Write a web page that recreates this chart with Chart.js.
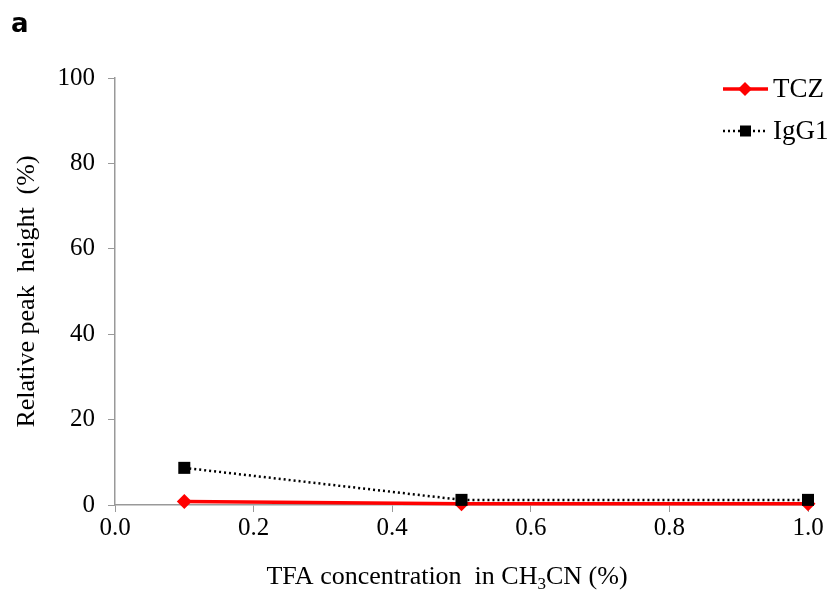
<!DOCTYPE html>
<html>
<head>
<meta charset="utf-8">
<script src="https://cdn.jsdelivr.net/npm/chart.js@4/dist/chart.umd.min.js"></script>
<style>
  html, body { margin: 0; padding: 0; background: #fff; }
  #wrap { position: relative; width: 831px; height: 596px; }
</style>
</head>
<body>
<div id="wrap"><canvas id="peakChart" width="831" height="596"></canvas></div>
<script>
var tfaConc = [0.1, 0.5, 1.0];
var tczHeight = [0.8, 0.3, 0.3];
var igg1Height = [8.7, 1.2, 1.2];
var xTicks = [0, 0.2, 0.4, 0.6, 0.8, 1.0];
var yTicks = [0, 20, 40, 60, 80, 100];

var serif = '"Liberation Serif", "Times New Roman", serif';

function toPoints(xs, ys) {
    return xs.map(function(x, i) { return { x: x, y: ys[i] }; });
}

// legend with line + marker, x title with subscript, and the panel letter
var extras = {
    id: 'extras',
    afterDraw: function(chart) {
        var ctx = chart.ctx;
        ctx.save();
        ctx.fillStyle = '#000';
        ctx.font = 'bold 26px "DejaVu Sans", sans-serif';
        ctx.textBaseline = 'alphabetic';
        ctx.fillText('a', 11, 32);

        // x axis title: TFA concentration in CH3CN (%)
        var parts = [
            { t: 'TFA concentration  in CH', size: 26, dy: 0 },
            { t: '3', size: 17, dy: 5 },
            { t: 'CN (%)', size: 26, dy: 0 }
        ];
        var total = 0;
        parts.forEach(function(p) {
            ctx.font = p.size + 'px ' + serif;
            p.w = ctx.measureText(p.t).width;
            total += p.w;
        });
        var tx = 447 - total / 2;
        parts.forEach(function(p) {
            ctx.font = p.size + 'px ' + serif;
            ctx.fillText(p.t, tx, 584 + p.dy);
            tx += p.w;
        });

        var items = [
            { label: 'TCZ', color: '#ff0000', dash: [], width: 3.5, shape: 'diamond', y: 89 },
            { label: 'IgG1', color: '#000', dash: [2, 3], width: 2.5, shape: 'square', y: 131 }
        ];
        items.forEach(function(it) {
            ctx.strokeStyle = it.color;
            ctx.lineWidth = it.width;
            ctx.setLineDash(it.dash);
            ctx.beginPath();
            ctx.moveTo(723, it.y);
            ctx.lineTo(768, it.y);
            ctx.stroke();
            ctx.setLineDash([]);
            ctx.fillStyle = it.color;
            ctx.beginPath();
            if (it.shape === 'diamond') {
                ctx.moveTo(745, it.y - 7);
                ctx.lineTo(752, it.y);
                ctx.lineTo(745, it.y + 7);
                ctx.lineTo(738, it.y);
            } else {
                ctx.rect(740, it.y - 5.5, 11, 11);
            }
            ctx.closePath();
            ctx.fill();
            ctx.fillStyle = '#000';
            ctx.font = '27px ' + serif;
            ctx.textBaseline = 'middle';
            ctx.fillText(it.label, 773, it.y + 1);
            ctx.textBaseline = 'alphabetic';
        });
        ctx.restore();
    }
};

var ctx = document.getElementById('peakChart').getContext('2d');
var peakChart = new Chart(ctx, {
    type: 'scatter',
    data: {
        datasets: [{
            label: 'TCZ',
            data: toPoints(tfaConc, tczHeight),
            showLine: true,
            clip: false,
            borderColor: '#ff0000',
            backgroundColor: '#ff0000',
            borderWidth: 3.5,
            pointStyle: 'rectRot',
            pointRadius: 7.5,
            pointBorderWidth: 0,
            order: 2
        }, {
            label: 'IgG1',
            data: toPoints(tfaConc, igg1Height),
            showLine: true,
            clip: false,
            borderColor: '#000',
            backgroundColor: '#000',
            borderWidth: 2.5,
            borderDash: [2, 3],
            pointStyle: 'rect',
            pointRadius: 8.5,
            pointBorderWidth: 0,
            order: 1
        }]
    },
    options: {
        responsive: false,
        animation: false,
        layout: { padding: { left: 0, right: 23, top: 78, bottom: 0 } },
        plugins: {
            legend: { display: false },
            tooltip: { enabled: false }
        },
        scales: {
            x: {
                type: 'linear',
                min: 0,
                max: 1,
                afterBuildTicks: function(scale) {
                    scale.ticks = xTicks.map(function(v) { return { value: v }; });
                },
                afterFit: function(scale) { scale.height = 91; },
                ticks: {
                    color: '#000',
                    font: { family: serif, size: 25 },
                    padding: 1,
                    maxRotation: 0,
                    callback: function(v) { return v.toFixed(1); }
                },
                grid: { drawOnChartArea: false, drawTicks: true, tickLength: 7, color: '#999' },
                border: { color: '#999', width: 1.5 },
                title: { display: false }
            },
            y: {
                min: 0,
                max: 100,
                afterBuildTicks: function(scale) {
                    scale.ticks = yTicks.map(function(v) { return { value: v }; });
                },
                afterFit: function(scale) { scale.width = 115; },
                ticks: {
                    color: '#000',
                    font: { family: serif, size: 25 },
                    padding: 13
                },
                grid: { drawOnChartArea: false, drawTicks: true, tickLength: 7, color: '#999' },
                border: { color: '#999', width: 1.5 },
                title: {
                    display: true,
                    text: 'Relative peak  height  (%)',
                    color: '#000',
                    font: { family: serif, size: 26 },
                    padding: { top: 12, bottom: 4 }
                }
            }
        }
    },
    plugins: [extras]
});
</script>
</body>
</html>
